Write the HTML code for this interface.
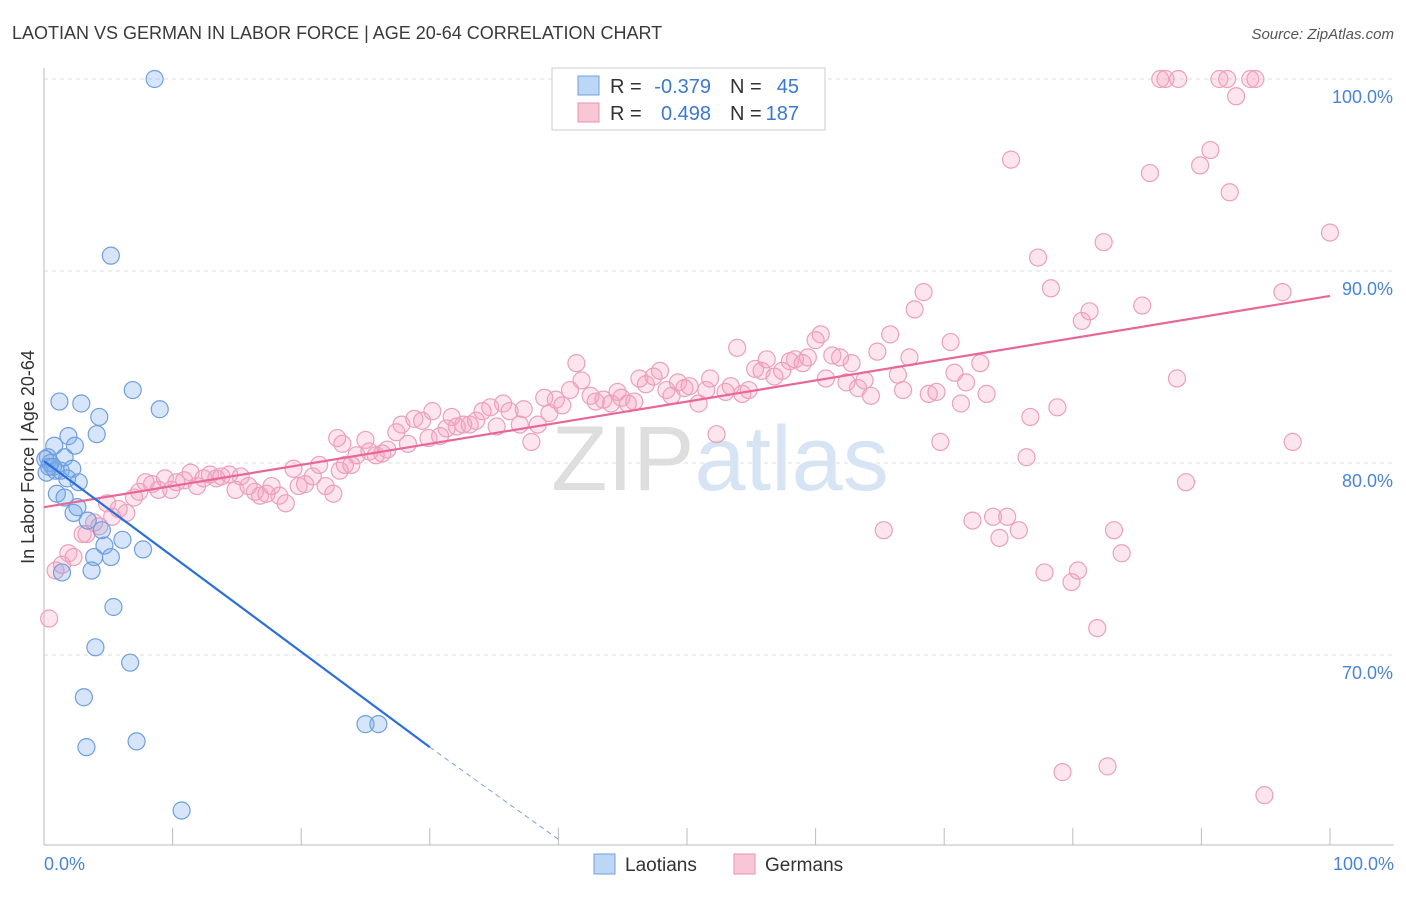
<!DOCTYPE html>
<html><head><meta charset="utf-8"><style>
body{margin:0;background:#fff;font-family:"Liberation Sans",sans-serif;}
svg text{font-family:"Liberation Sans",sans-serif;}
</style></head><body>
<svg id="chart" width="1406" height="892" xmlns="http://www.w3.org/2000/svg">
<text x="12" y="39" font-size="18" fill="#3a3a3a">LAOTIAN VS GERMAN IN LABOR FORCE | AGE 20-64 CORRELATION CHART</text>
<text x="1394" y="39" font-size="15" fill="#555" text-anchor="end" font-style="italic">Source: ZipAtlas.com</text>
<g id="grid"></g>
<text x="720" y="490" font-size="92" fill="#e6e6e6" text-anchor="middle" font-family="Liberation Serif"><tspan fill="#dedede">ZIP</tspan><tspan fill="#d6e4f4" font-family="Liberation Sans">atlas</tspan></text>
<g id="marks"></g>
<text transform="translate(34,457) rotate(-90)" font-size="18" fill="#333" text-anchor="middle">In Labor Force | Age 20-64</text>
<g>
<rect x="552" y="68" width="273" height="62" fill="#fff" stroke="#ccc"/>
<rect x="578" y="76" width="21" height="19" fill="#bcd6f5" stroke="#6fa0de"/>
<rect x="578" y="103" width="21" height="19" fill="#f9c6d6" stroke="#e891b0"/>
<text x="610" y="93" font-size="20" fill="#333">R =</text>
<text x="711" y="93" font-size="20" fill="#3a78d4" text-anchor="end">-0.379</text>
<text x="730" y="93" font-size="20" fill="#333">N =</text>
<text x="799" y="93" font-size="20" fill="#3a78d4" text-anchor="end">45</text>
<text x="610" y="120" font-size="20" fill="#333">R =</text>
<text x="711" y="120" font-size="20" fill="#3a78d4" text-anchor="end">0.498</text>
<text x="730" y="120" font-size="20" fill="#333">N =</text>
<text x="799" y="120" font-size="20" fill="#3a78d4" text-anchor="end">187</text>
</g>
<g>
<rect x="594" y="854" width="21" height="20" fill="#bcd6f5" stroke="#6fa0de"/>
<text x="625" y="871" font-size="19" fill="#333">Laotians</text>
<rect x="734" y="854" width="21" height="20" fill="#f9c6d6" stroke="#e891b0"/>
<text x="765" y="871" font-size="19" fill="#333">Germans</text>
</g>
</svg>
<script>
const xTickLabels=["0.0%","100.0%"];
const yTicks=[70,80,90,100];
const blueX=[8.6,5.2,1.2,2.9,6.9,9.0,4.3,1.9,4.1,2.4,0.8,1.6,0.3,0.4,0.9,1.3,2.2,1.8,2.7,1.0,1.6,2.3,2.6,3.4,4.5,6.1,4.7,7.7,3.9,5.2,1.4,3.7,5.4,4.0,6.7,3.1,7.2,3.3,10.7,25.0,26.0,0.1,0.5,0.7,0.2];
const blueY=[100,90.8,83.2,83.1,83.8,82.8,82.4,81.4,81.5,80.9,80.9,80.3,80.3,79.8,79.6,79.6,79.7,79.2,79.0,78.4,78.2,77.4,77.7,77.0,76.5,76.0,75.7,75.5,75.1,75.1,74.3,74.4,72.5,70.4,69.6,67.8,65.5,65.2,61.9,66.4,66.4,80.2,80.0,79.8,79.5];
const pinkX=[0.4,0.9,1.4,1.9,2.3,3.0,3.3,3.9,4.3,4.9,5.3,5.8,6.4,7.0,7.4,7.9,8.4,8.9,9.4,9.9,10.3,10.9,11.4,11.9,12.4,12.9,13.4,13.8,14.4,14.9,15.3,15.9,16.4,16.8,17.3,17.7,18.3,18.8,19.4,19.8,20.3,20.9,21.4,21.9,22.5,23.0,23.4,23.9,24.3,22.8,23.2,25.0,25.3,25.8,26.3,26.7,27.4,27.8,28.3,28.8,29.4,29.9,30.2,30.8,31.3,31.7,32.1,32.6,33.1,33.6,34.1,34.7,35.2,35.7,36.2,37.0,37.3,37.9,38.4,38.9,39.3,39.8,40.3,40.9,41.4,41.8,42.5,42.9,43.5,44.1,44.6,44.9,45.4,45.9,46.3,46.8,47.4,47.9,48.4,48.8,49.3,49.8,50.2,50.9,51.5,51.8,52.3,53.0,53.4,53.9,54.3,54.8,55.3,55.8,56.2,56.8,57.4,58.0,58.4,59.0,59.4,60.0,60.4,60.8,61.3,61.9,62.4,62.8,63.3,63.8,64.3,64.8,65.3,65.8,66.4,66.8,67.3,67.7,68.4,68.8,69.4,69.7,70.5,70.8,71.3,71.7,72.2,72.8,73.3,73.8,74.3,74.9,75.2,75.8,76.4,76.7,77.3,77.8,78.3,78.8,79.2,79.9,80.4,80.7,81.3,81.9,82.4,82.7,83.2,83.8,85.4,86.0,86.8,87.2,88.2,88.1,88.8,89.9,90.7,91.4,92.0,92.2,92.7,93.8,94.2,94.9,96.3,97.1,100];
const pinkY=[71.9,74.4,74.7,75.3,75.1,76.3,76.3,76.9,76.7,77.9,77.2,77.6,77.4,78.2,78.5,79.0,78.9,78.6,79.2,78.6,79.0,79.1,79.5,78.8,79.2,79.4,79.2,79.3,79.4,78.6,79.3,78.8,78.5,78.3,78.4,78.8,78.3,77.9,79.7,78.8,78.9,79.3,79.9,78.8,78.4,79.6,79.9,79.9,80.4,81.3,81.0,81.2,80.6,80.4,80.5,80.7,81.6,82.0,81.0,82.3,82.2,81.3,82.7,81.4,81.8,82.4,81.9,82.0,82.0,82.2,82.7,82.9,81.9,83.1,82.7,82.0,82.8,81.1,82.0,83.4,82.6,83.3,83.0,83.8,85.2,84.3,83.5,83.2,83.3,83.1,83.7,83.4,83.1,83.2,84.4,84.1,84.5,84.8,83.8,83.5,84.2,83.9,84.0,83.1,83.8,84.4,81.5,83.7,84.0,86.0,83.6,83.8,84.9,84.8,85.4,84.5,84.8,85.3,85.4,85.2,85.5,86.4,86.7,84.4,85.6,85.5,84.2,85.2,83.9,84.3,83.5,85.8,76.5,86.7,84.6,83.8,85.5,88.0,88.9,83.6,83.7,81.1,86.3,84.7,83.1,84.2,77.0,85.2,83.6,77.2,76.1,77.2,95.8,76.5,80.3,82.4,90.7,74.3,89.1,82.9,63.9,73.8,74.4,87.4,87.9,71.4,91.5,64.2,76.5,75.3,88.2,95.1,100,100,100,84.4,79.0,95.5,96.3,100,100,94.1,99.1,100,100,62.7,88.9,81.1,92.0];
const blueTrend=[80.1,65.2,60.4];
const pinkTrend=[77.7,88.7];
const NS="http://www.w3.org/2000/svg";
const X=v=>44+v*12.86, Y=v=>79+(100-v)*19.2;
const grid=document.getElementById('grid'), marks=document.getElementById('marks');
function mk(tag,attrs,parent){const e=document.createElementNS(NS,tag);for(const k in attrs)e.setAttribute(k,attrs[k]);parent.appendChild(e);return e;}
yTicks.forEach(t=>{
  const l=mk('line',{x1:44,x2:1394,y1:Y(t),y2:Y(t),stroke:'#ddd','stroke-dasharray':'4,4'},grid);
  
  
  const tx=mk('text',{x:1393,y:Y(t)+24,'font-size':18,fill:'#4a84d6','text-anchor':'end'},grid);
  tx.textContent=t.toFixed(1)+'%';
  
  
});
const ax=mk('line',{x1:44,x2:44,y1:68,y2:845,stroke:'#bbb'},grid);


const bx=mk('line',{x1:44,x2:1394,y1:845,y2:845,stroke:'#bbb'},grid);


for(let i=1;i<=10;i++){const t=mk('line',{x1:X(i*10),x2:X(i*10),y1:828,y2:845,stroke:'#bbb'},grid);
  
  }
[[0,'start',44],[1,'end',1394]].forEach(([i,a,x])=>{const t=mk('text',{x:x,y:870,'font-size':18,fill:'#4a84d6','text-anchor':a},grid);t.textContent=xTickLabels[i];
  
  });
pinkX.forEach((v,i)=>{const c=mk('circle',{cx:X(v),cy:Y(pinkY[i]),r:8.5,fill:'rgba(244,160,190,0.28)',stroke:'#eba0bb','stroke-width':1.2},marks);
  
  });
blueX.forEach((v,i)=>{const c=mk('circle',{cx:X(v),cy:Y(blueY[i]),r:8.5,fill:'rgba(120,170,235,0.3)',stroke:'#6f9fde','stroke-width':1.2},marks);
  
  });
const pl=mk('line',{x1:X(0),y1:Y(pinkTrend[0]),x2:X(100),y2:Y(pinkTrend[1]),stroke:'#e8679a','stroke-width':2.2},marks);


const bl=mk('line',{x1:X(0),y1:Y(blueTrend[0]),x2:X(30),y2:Y(blueTrend[1]),stroke:'#2a6fdb','stroke-width':2.2},marks);


const bd=mk('line',{x1:X(30),y1:Y(blueTrend[1]),x2:X(40),y2:Y(blueTrend[2]),stroke:'#7aa3e0','stroke-width':1,'stroke-dasharray':'5,4'},marks);


</script>
</body></html>
